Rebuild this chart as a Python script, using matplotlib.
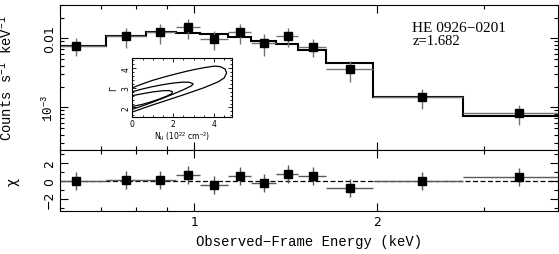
import matplotlib
matplotlib.use('Agg')
import matplotlib.pyplot as plt
from matplotlib.ticker import FixedLocator, FixedFormatter, NullFormatter, MultipleLocator
import numpy as np

plt.rcParams['font.family'] = 'DejaVu Sans'
plt.rcParams['mathtext.fontset'] = 'custom'
plt.rcParams['mathtext.rm'] = 'Liberation Mono'
plt.rcParams['mathtext.it'] = 'Liberation Mono'
plt.rcParams['xtick.direction'] = 'in'
plt.rcParams['ytick.direction'] = 'in'
plt.rcParams['xtick.top'] = True
plt.rcParams['ytick.right'] = True

# spectrum (keV, counts/s/keV)
energy = [0.638, 0.770, 0.879, 0.975, 1.076, 1.188, 1.302, 1.426, 1.568, 1.806, 2.375, 3.43]
counts = [0.00781, 0.01069, 0.01222, 0.01443, 0.00977, 0.01222, 0.00855, 0.01069,
          0.00755, 0.00353, 0.001396, 0.000826]
counts_err = [0.0023, 0.0034, 0.0039, 0.0047, 0.0031, 0.0039, 0.0030, 0.0033,
              0.0022, 0.0012, 0.00045, 0.00027]
bin_edges = [0.599, 0.7135, 0.8304, 0.9307, 1.0196, 1.1339, 1.2420, 1.3652,
             1.4846, 1.6455, 1.9679, 2.7693, 3.976]
model = [0.00781, 0.01069, 0.01222, 0.01194, 0.01154, 0.01034, 0.00923, 0.00827,
         0.00677, 0.00439, 0.001425, 0.000741]
chi = [-0.03, 0.08, 0.08, 0.7, -0.44, 0.52, -0.26, 0.78, 0.52, -0.81, -0.04, 0.41]

# confidence contours (N_H in 1e22 cm^-2, Gamma)
c68_nh = [0, 0.5, 1.0, 1.5, 1.8, 1.97, 1.93, 1.7, 1.3, 0.9, 0.5, 0]
c68_g = [2.6, 2.7, 2.79, 2.85, 2.86, 2.8, 2.7, 2.58, 2.42, 2.28, 2.16, 2.05]
c90_nh = [0, 0.5, 1.0, 1.5, 2.0, 2.5, 2.8, 2.98, 2.9, 2.5, 2.0, 1.5, 1.0, 0.5, 0]
c90_g = [2.8, 2.94, 3.06, 3.16, 3.24, 3.29, 3.28, 3.2, 3.1, 2.9, 2.68, 2.47, 2.27, 2.08, 1.91]
c99_nh = [0, 0.5, 1.0, 1.5, 2.0, 2.5, 3.0, 3.5, 4.0, 4.3, 4.55, 4.62, 4.5, 4.2,
          3.5, 3.0, 2.5, 2.0, 1.5, 1.0, 0.5, 0]
c99_g = [3.0, 3.2, 3.38, 3.53, 3.67, 3.8, 3.92, 4.02, 4.1, 4.08, 3.95, 3.75, 3.5, 3.3,
         3.0, 2.82, 2.64, 2.47, 2.3, 2.13, 1.95, 1.77]

energy = np.array(energy)
edges = np.array(bin_edges)
lo = edges[:-1]
hi = edges[1:]
xerr = [energy - lo, hi - energy]

fig = plt.figure(figsize=(5.59, 2.55), dpi=100)
ax = fig.add_axes([0.1073, 0.4078, 0.8909, 0.5687])
ax2 = fig.add_axes([0.1073, 0.1686, 0.8909, 0.2392], sharex=ax)

mono = 'Liberation Mono'

# top panel
ax.stairs(model, edges, baseline=None, color='k', lw=1.5)
ax.errorbar(energy, counts, xerr=xerr, yerr=counts_err, fmt='s', color='k', ms=6.2,
            ecolor='0.45', elinewidth=1, capsize=0)
ax.set_xscale('log')
ax.set_yscale('log')
ax.set_xlim(0.6, 3.98)
ax.set_ylim(2.4e-4, 0.0304)
ax.yaxis.set_major_locator(FixedLocator([1e-3, 1e-2]))
ax.yaxis.set_major_formatter(FixedFormatter([r'$10^{-3}$', '0.01']))
ax.yaxis.set_minor_locator(FixedLocator([m * 10.0**d for d in (-4, -3, -2) for m in range(2, 10)]))
ax.yaxis.set_minor_formatter(NullFormatter())
for t in ax.get_yticklabels():
    t.set_rotation(90)
    t.set_va('center')
ax.tick_params(axis='y', labelsize=9, pad=3)
ax.tick_params(which='major', length=6, width=0.8)
ax.tick_params(which='minor', length=3, width=0.8)
ax.tick_params(axis='x', labelbottom=False)
ax.set_ylabel(r'Counts s$^{-1}$ keV$^{-1}$', family=mono, fontsize=10)
ax.yaxis.set_label_coords(-0.09, 0.5)
ax.text(0.706, 0.846, 'HE 0926\u22120201', transform=ax.transAxes, family='Liberation Serif',
        fontsize=11, va='center', ha='left')
ax.text(0.709, 0.752, 'z=1.682', transform=ax.transAxes, family='Liberation Serif',
        fontsize=10.5, va='center', ha='left')

# residuals
ax2.axhline(0, color='k', lw=0.9, ls=(0, (4, 2)))
ax2.errorbar(energy, chi, xerr=xerr, yerr=1, fmt='s', color='k', ms=6.2,
             ecolor='0.35', elinewidth=1, capsize=0)
ax2.set_ylim(-3.35, 3.45)
ax2.xaxis.set_major_locator(FixedLocator([1, 2]))
ax2.xaxis.set_major_formatter(FixedFormatter(['1', '2']))
ax2.xaxis.set_minor_locator(FixedLocator([0.6, 0.7, 0.8, 0.9, 3, 4]))
ax2.xaxis.set_minor_formatter(NullFormatter())
ax2.yaxis.set_major_locator(FixedLocator([-2, 0, 2]))
ax2.yaxis.set_major_formatter(FixedFormatter(['\u22122', '0', '2']))
ax2.yaxis.set_minor_locator(MultipleLocator(1))
for t in ax2.get_yticklabels():
    t.set_rotation(90)
    t.set_va('center')
ax2.tick_params(labelsize=9, pad=3)
ax2.tick_params(which='major', length=6, width=0.8)
ax2.tick_params(which='minor', length=3, width=0.8)
ax2.set_ylabel('\u03c7', fontsize=10)
ax2.yaxis.set_label_coords(-0.082, 0.5)
ax2.set_xlabel('Observed\u2212Frame Energy (keV)', family=mono, fontsize=10, labelpad=4)

# inset with contours
ins = fig.add_axes([0.2367, 0.5361, 0.1778, 0.2314])
for nh, g in ((c68_nh, c68_g), (c90_nh, c90_g), (c99_nh, c99_g)):
    ins.plot(nh, g, color='k', lw=0.9)
ins.set_xlim(0, 4.87)
ins.set_ylim(1.5, 4.5)
ins.xaxis.set_major_locator(FixedLocator([0, 2, 4]))
ins.xaxis.set_minor_locator(MultipleLocator(0.5))
ins.yaxis.set_major_locator(FixedLocator([2, 3, 4]))
ins.yaxis.set_minor_locator(MultipleLocator(0.2))
for t in ins.get_yticklabels():
    t.set_rotation(90)
    t.set_va('center')
ins.tick_params(labelsize=5.5, pad=1.5)
ins.tick_params(which='major', length=3, width=0.6)
ins.tick_params(which='minor', length=1.5, width=0.6)
ins.set_xlabel(r'N$_{\rm H}$ (10$^{22}$ cm$^{-2}$)', fontsize=5.5, labelpad=1)
ins.set_ylabel('\u0393', fontsize=6, labelpad=2)
for s in ins.spines.values():
    s.set_linewidth(0.8)

fig.savefig('out.png', dpi=100)
